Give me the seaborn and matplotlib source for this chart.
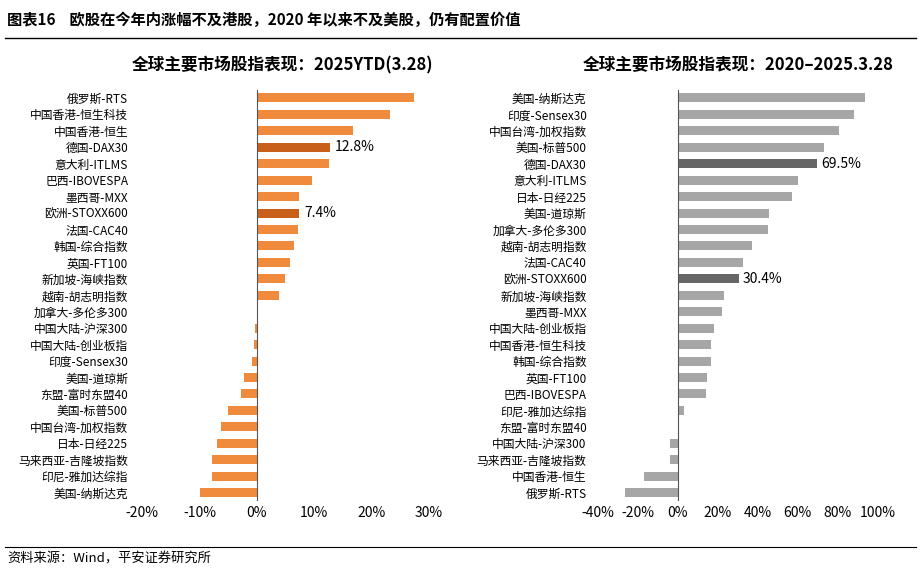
import matplotlib
matplotlib.use("Agg")
import matplotlib.pyplot as plt
import seaborn as sns
import pandas as pd
from matplotlib.ticker import FuncFormatter

plt.rcParams["font.family"] = ["Noto Sans CJK SC", "DejaVu Sans"]
plt.rcParams["axes.unicode_minus"] = False

left_names = ["俄罗斯-RTS","中国香港-恒生科技","中国香港-恒生","德国-DAX30","意大利-ITLMS","巴西-IBOVESPA","墨西哥-MXX","欧洲-STOXX600","法国-CAC40","韩国-综合指数","英国-FT100","新加坡-海峡指数","越南-胡志明指数","加拿大-多伦多300","中国大陆-沪深300","中国大陆-创业板指","印度-Sensex30","美国-道琼斯","东盟-富时东盟40","美国-标普500","中国台湾-加权指数","日本-日经225","马来西亚-吉隆坡指数","印尼-雅加达综指","美国-纳斯达克"]
left_vals = [27.4,23.2,16.8,12.8,12.6,9.6,7.3,7.4,7.2,6.5,5.8,4.9,3.8,0.2,-0.4,-0.5,-0.9,-2.3,-2.8,-5.1,-6.3,-7.0,-7.8,-7.8,-10.0]
right_names = ["美国-纳斯达克","印度-Sensex30","中国台湾-加权指数","美国-标普500","德国-DAX30","意大利-ITLMS","日本-日经225","美国-道琼斯","加拿大-多伦多300","越南-胡志明指数","法国-CAC40","欧洲-STOXX600","新加坡-海峡指数","墨西哥-MXX","中国大陆-创业板指","中国香港-恒生科技","韩国-综合指数","英国-FT100","巴西-IBOVESPA","印尼-雅加达综指","东盟-富时东盟40","中国大陆-沪深300","马来西亚-吉隆坡指数","中国香港-恒生","俄罗斯-RTS"]
right_vals = [93.5,88,80.5,73,69.5,60,57,45.5,45,37,32.5,30.4,23,22,18,16.5,16.5,14.5,14,3,0.5,-4,-4,-17,-26.5]
highlights = ["德国-DAX30","欧洲-STOXX600"]

fig = plt.figure(figsize=(9.21,5.79), dpi=100)
fig.text(0.008,0.965,"图表16    欧股在今年内涨幅不及港股，2020 年以来不及美股，仍有配置价值",fontsize=11,fontweight="bold",va="center")
fig.add_artist(plt.Line2D([0.005,0.995],[0.935,0.935],color="black",lw=1))
fig.add_artist(plt.Line2D([0.005,0.995],[0.055,0.055],color="black",lw=0.8))
fig.text(0.008,0.035,"资料来源：Wind，平安证券研究所",fontsize=9.5,style="italic",va="center")

def panel(rect,names,vals,base,hi,xlim,ticks,title,labels):
    ax = fig.add_axes(rect)
    df = pd.DataFrame({"n":names,"v":vals})
    pal = {n:(hi if n in highlights else base) for n in names}
    sns.barplot(data=df,x="v",y="n",hue="n",palette=pal,ax=ax,width=0.55,legend=False,orient="h",saturation=1)
    ax.set_xlim(*xlim); ax.set_xticks(ticks)
    ax.xaxis.set_major_formatter(FuncFormatter(lambda x,p: f"{x:.0f}%"))
    ax.set_xlabel(""); ax.set_ylabel("")
    for s in ["top","right","bottom","left"]: ax.spines[s].set_visible(False)
    ax.axvline(0,color="#555555",lw=0.8)
    ax.tick_params(axis="y",length=0,labelsize=8.5,pad=2)
    ax.tick_params(axis="x",length=0,labelsize=10)
    ax.set_title(title,fontsize=12,fontweight="bold",pad=14)
    for n,t in labels.items():
        i = names.index(n)
        ax.text(vals[i]+ (xlim[1]-xlim[0])*0.015, i, t, va="center", fontsize=10)
    return ax

panel([0.142,0.135,0.33,0.71],left_names,left_vals,"#F08A3C","#C8601A",(-22,31),[-20,-10,0,10,20,30],"全球主要市场股指表现：2025YTD(3.28)",{"德国-DAX30":"12.8%","欧洲-STOXX600":"7.4%"})
panel([0.64,0.135,0.322,0.71],right_names,right_vals,"#A6A6A6","#666666",(-44,104),[-40,-20,0,20,40,60,80,100],"全球主要市场股指表现：2020–2025.3.28",{"德国-DAX30":"69.5%","欧洲-STOXX600":"30.4%"})

fig.savefig("out.png",dpi=100)
